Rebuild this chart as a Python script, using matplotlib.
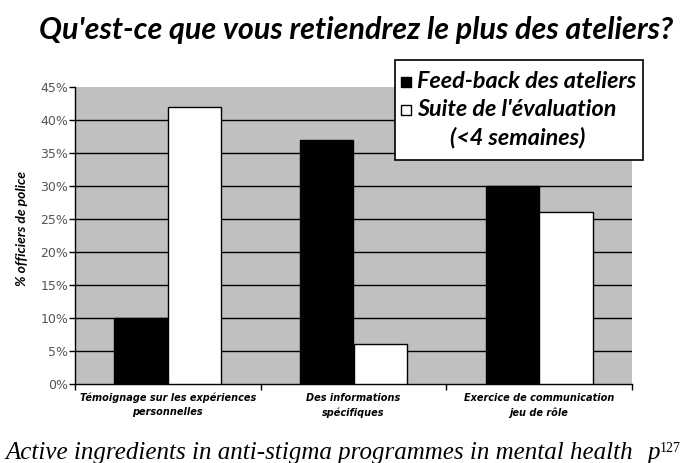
import matplotlib
matplotlib.use("Agg")
import matplotlib.pyplot as plt
import numpy as np
from matplotlib.patches import Rectangle

categories = ["Témoignage sur les expériences\npersonnelles",
              "Des informations\nspécifiques",
              "Exercice de communication\njeu de rôle"]
feedback = [10, 37, 30]
suite = [42, 6, 26]
series_labels = ["Feed-back des ateliers", "Suite de l'évaluation", "(<4 semaines)"]
yticks = [0, 5, 10, 15, 20, 25, 30, 35, 40, 45]

W, H = 682, 463
fig = plt.figure(figsize=(6.82, 4.63), dpi=100)
fig.patch.set_facecolor("white")
ax = fig.add_axes([75/W, 1-384/H, (632-75)/W, (384-87)/H])
ax.set_facecolor("#c0c0c0")

x = np.arange(len(categories))
w = 0.2875
ax.bar(x - w/2, feedback, w, color="black", edgecolor="black", linewidth=1, zorder=3)
ax.bar(x + w/2, suite, w, color="white", edgecolor="black", linewidth=1, zorder=3)

ax.set_xlim(-0.5, 2.5)
ax.set_ylim(0, 45)
for v in yticks[1:-1]:
    ax.axhline(v, color="black", linewidth=1, zorder=1)

ax.set_yticks(yticks)
ax.set_yticklabels([f"{v}%" for v in yticks], fontsize=9, color="#555555", family="DejaVu Sans")
ax.tick_params(axis="y", direction="out", length=4, width=1, color="black", pad=1)

ax.set_xticks([-0.5, 0.5, 1.5, 2.5])
ax.set_xticklabels([])
ax.tick_params(axis="x", direction="out", length=4, width=1, color="black")
for i, c in enumerate(categories):
    ax.text(i, -1.3, c, ha="center", va="top", fontsize=7, fontweight="bold",
            fontstyle="italic", family="DejaVu Sans", linespacing=1.55,
            transform=ax.transData)

for s in ["top", "right"]:
    ax.spines[s].set_visible(False)
ax.spines["left"].set_linewidth(1)
ax.spines["bottom"].set_linewidth(1)

fig.text(22/W, 1-228/H, "% officiers de police", rotation=90, ha="center", va="center",
         fontsize=10, fontweight="bold", fontstyle="italic", family="Lato")

fig.text(356/W, 1-30/H, "Qu'est-ce que vous retiendrez le plus des ateliers?",
         ha="center", va="center", fontsize=22, fontweight="bold", fontstyle="italic",
         family="Lato")

fig.text(5/W, 1-459/H, "Active ingredients in anti-stigma programmes in mental health",
         ha="left", va="baseline", fontsize=18, fontstyle="italic", family="Liberation Serif")
fig.text(647/W, 1-459/H, "p", ha="left", va="baseline", fontsize=18,
         fontstyle="italic", family="Liberation Serif")
fig.text(660/W, 1-452/H, "127", ha="left", va="baseline", fontsize=10,
         family="Liberation Serif")

# legend box (drawn manually to match layout)
def px(xp, yp):
    return xp / W, 1 - yp / H

fig.patches.append(Rectangle(px(395, 160), 248/W, 100/H, transform=fig.transFigure,
                             facecolor="white", edgecolor="black", linewidth=1.2, zorder=5))
fig.patches.append(Rectangle(px(401, 87), 10/W, 10/H, transform=fig.transFigure,
                             facecolor="black", edgecolor="black", linewidth=1, zorder=6))
fig.patches.append(Rectangle(px(401, 115), 10/W, 10/H, transform=fig.transFigure,
                             facecolor="white", edgecolor="black", linewidth=1, zorder=6))
lp = dict(fontsize=16.8, fontweight="bold", fontstyle="italic", family="Lato", zorder=7)
fig.text(*px(417, 81), series_labels[0], ha="left", va="center", **lp)
fig.text(*px(417, 109), series_labels[1], ha="left", va="center", **lp)
fig.text(*px(518, 138), series_labels[2], ha="center", va="center", **lp)

fig.savefig("out.png", dpi=100)
